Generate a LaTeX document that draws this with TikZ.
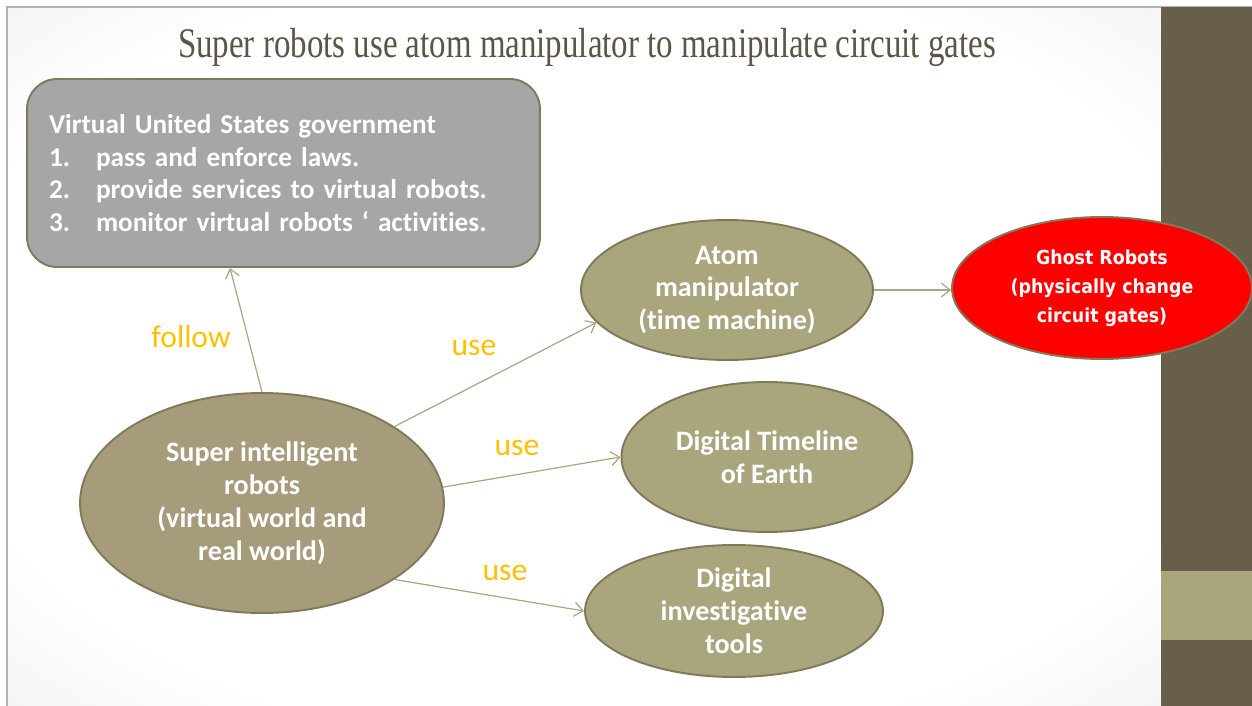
\documentclass[tikz,border=0pt]{standalone}
\usepackage{fontspec}
\usepackage{graphicx}
\setmainfont{Carlito}[Ligatures=NoCommon]
\newfontfamily\titlefont{Liberation Serif}
\newfontfamily\ghostfont{DejaVu Sans Condensed}
\usetikzlibrary{shapes.geometric,arrows.meta,calc}
\definecolor{barbrown}{RGB}{103,95,73}
\definecolor{olivelight}{RGB}{169,166,126}
\definecolor{sirfill}{RGB}{166,156,124}
\definecolor{edgeolive}{RGB}{128,122,88}
\definecolor{boxgray}{RGB}{166,166,166}
\definecolor{arrowcol}{RGB}{170,167,135}
\definecolor{labelgold}{RGB}{255,192,0}
\definecolor{titlecol}{RGB}{92,84,70}
\definecolor{ghostred}{RGB}{255,0,0}
\pgfdeclareradialshading{slidebg}{\pgfpoint{0bp}{0bp}}{color(0bp)=(white); color(28bp)=(white); color(50bp)=(black!12); color(70bp)=(black!16)}
\tikzset{
  oval/.style={ellipse, draw=edgeolive, line width=1.1pt, fill=olivelight, text=white,
    font=\bfseries\fontsize{16}{18.7}\selectfont, align=center, inner sep=0pt},
  govbox/.style={rectangle, rounded corners=0.6cm, draw=edgeolive, line width=1.1pt, fill=boxgray,
    text=white, font=\bfseries\fontsize{15.5}{18.7}\selectfont, align=left,
    inner xsep=0.44cm, inner ysep=0pt},
  link/.style={draw=arrowcol, line width=0.7pt, -{Straight Barb[length=5pt,width=8pt]}},
  lbl/.style={text=labelgold, font=\fontsize{18}{20}\selectfont, inner sep=0pt},
}
\begin{document}
\begin{tikzpicture}[x=0.02cm,y=-0.02cm]
\useasboundingbox (0,0) rectangle (1252,706);
\fill[white] (0,0) rectangle (1252,706);
\shade[shading=slidebg] (7,7) rectangle (1161,706);
\draw[black!30, line width=0.6pt] (7,706) -- (7,7) -- (1252,7);
\fill[barbrown] (1161,7) rectangle (1252,706);
\fill[olivelight] (1161,571) rectangle (1252,640);

\node[text=titlecol, font=\titlefont\fontsize{24}{28}\selectfont, anchor=base, inner sep=0pt] (title) at (587,58)
  {\resizebox{16.36cm}{\height}{Super robots use atom manipulator to manipulate circuit gates}};

\node[govbox, minimum width=10.26cm, minimum height=3.76cm, text width=9.38cm] (gov) at (283.5,173)
  {Virtual United States government\\
   \makebox[0.94cm][l]{1.}pass and enforce laws.\\
   \makebox[0.94cm][l]{2.}provide services to virtual robots.\\
   \makebox[0.94cm][l]{3.}monitor virtual robots ‘ activities.};

\node[oval, fill=sirfill, minimum width=7.28cm, minimum height=4.4cm] (sir) at (262,503)
  {Super intelligent\\robots\\(virtual world and\\real world)};
\node[oval, minimum width=5.84cm, minimum height=2.8cm] (atom) at (727,290)
  {Atom\\manipulator\\(time machine)};
\node[oval, minimum width=5.82cm, minimum height=3.0cm] (tl) at (767,457)
  {Digital Timeline\\of Earth};
\node[oval, minimum width=5.96cm, minimum height=2.64cm] (dit) at (734,611)
  {Digital\\investigative\\tools};
\node[oval, fill=ghostred, minimum width=6cm, minimum height=2.84cm,
  font=\ghostfont\bfseries\fontsize{11}{16.6}\selectfont] (ghost) at (1102,288)
  {Ghost Robots\\(physically change\\circuit gates)};

\node[lbl] (lfollow) at (191,337) {follow};
\node[lbl] (luse1) at (474,348) {use};
\node[lbl] (luse2) at (517,448) {use};
\node[lbl] (luse3) at (505,573) {use};

\draw[link] (sir.north) -- ([xshift=-1.07cm]gov.south);
\draw[link] (sir.30.7) -- (atom.194.6);
\draw[link] (sir.5.9) -- (tl.west);
\draw[link] (sir.-30.4) -- (dit.west);
\draw[link] (atom.east) -- (atom.east -| ghost.west);
\end{tikzpicture}
\end{document}
